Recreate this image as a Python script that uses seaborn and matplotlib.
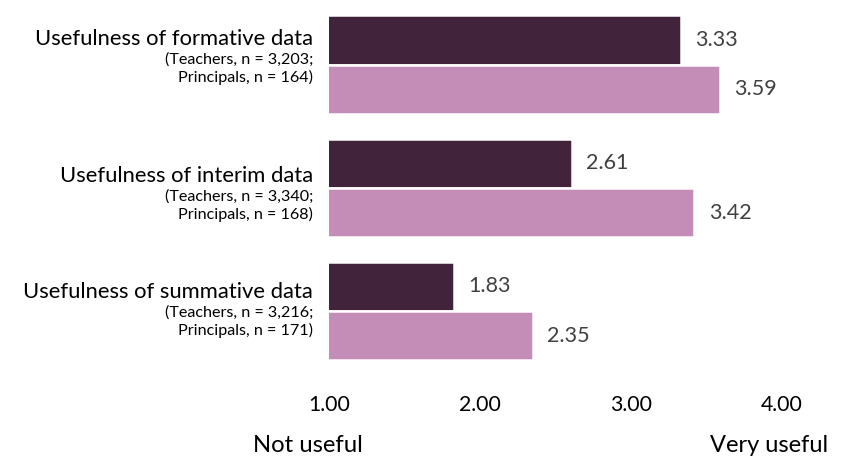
import matplotlib
matplotlib.use("Agg")
import matplotlib.pyplot as plt
import seaborn as sns
import pandas as pd

# Survey results: mean usefulness rating (1 = not useful, 4 = very useful)
categories = [
    "Usefulness of formative data",
    "Usefulness of interim data",
    "Usefulness of summative data",
]
teacher_n = ["3,203", "3,340", "3,216"]
principal_n = ["164", "168", "171"]
groups = ["Teachers", "Principals"]
teachers = [3.33, 2.61, 1.83]
principals = [3.59, 3.42, 2.35]
tick_values = [1, 2, 3, 4]
tick_labels = ["1.00", "2.00", "3.00", "4.00"]
scale_low = "Not useful"
scale_high = "Very useful"

df = pd.DataFrame({
    "category": categories * 2,
    "group": [groups[0]] * len(categories) + [groups[1]] * len(categories),
    "mean": teachers + principals,
})

DARK = "#41233B"
PINK = "#C48DB8"
FONT = ["Lato", "DejaVu Sans"]

sns.set_theme(style="white")
plt.rcParams["font.family"] = FONT

W, H = 841, 466
fig = plt.figure(figsize=(W / 100, H / 100), dpi=100)

# axes placed in pixel terms: x = 1 at 328.8 px, x = 4 at 781.7 px
x_left, x_right = 328.8, 781.7
ax_top, ax_bottom = 0.0, 380.0
ax = fig.add_axes([x_left / W, 1 - ax_bottom / H,
                   (x_right - x_left) / W, (ax_bottom - ax_top) / H])

sns.barplot(
    data=df, y="category", x="mean", hue="group", hue_order=groups,
    order=categories, orient="h", palette=[DARK, PINK], width=0.8,
    edgecolor="white", linewidth=1.8, saturation=1, legend=False, ax=ax,
)

# category centres at 64.7 px, spaced 123.2 px
first_c, step = 64.7, 123.2
ax.set_ylim(2 + (ax_bottom - (first_c + 2 * step)) / step,
            -(first_c - ax_top) / step)
ax.set_xlim(1, 4)

for cont in ax.containers:
    ax.bar_label(cont, fmt="%.2f", padding=10.5, fontsize=15.5,
                 color="#404040", family=FONT)

ax.set_xticks(tick_values, tick_labels)
ax.tick_params(axis="x", length=0, pad=11, labelsize=15.3, labelcolor="black")
ax.tick_params(axis="y", left=False, labelleft=False)
ax.set_xlabel("")
ax.set_ylabel("")
sns.despine(ax=ax, left=True, bottom=True)
ax.grid(False)

# category labels with sample sizes, right-aligned left of the bars
label_shift = [-19.7, -6.0, -12.7]   # baseline of main line vs. category centre (px)
line_gap = 18.5
for i, cat in enumerate(categories):
    base = label_shift[i]
    lines = [
        (cat, 15.8, base),
        (f"(Teachers, n = {teacher_n[i]};", 11.6, base + line_gap),
        (f"Principals, n = {principal_n[i]})", 11.6, base + 2 * line_gap),
    ]
    for text, size, dy in lines:
        ax.annotate(text, xy=(0, i), xycoords=("axes fraction", "data"),
                    xytext=(-15.8, -dy), textcoords="offset pixels",
                    ha="right", va="baseline", fontsize=size,
                    color="black", family=FONT, annotation_clip=False)

fig.text(308.3 / W, 1 - 451.5 / H, scale_low, ha="center", va="baseline",
         fontsize=17.2, color="black", family=FONT)
fig.text(769 / W, 1 - 451.5 / H, scale_high, ha="center", va="baseline",
         fontsize=17.0, color="black", family=FONT)

fig.savefig("out.png", dpi=100, facecolor="white")
